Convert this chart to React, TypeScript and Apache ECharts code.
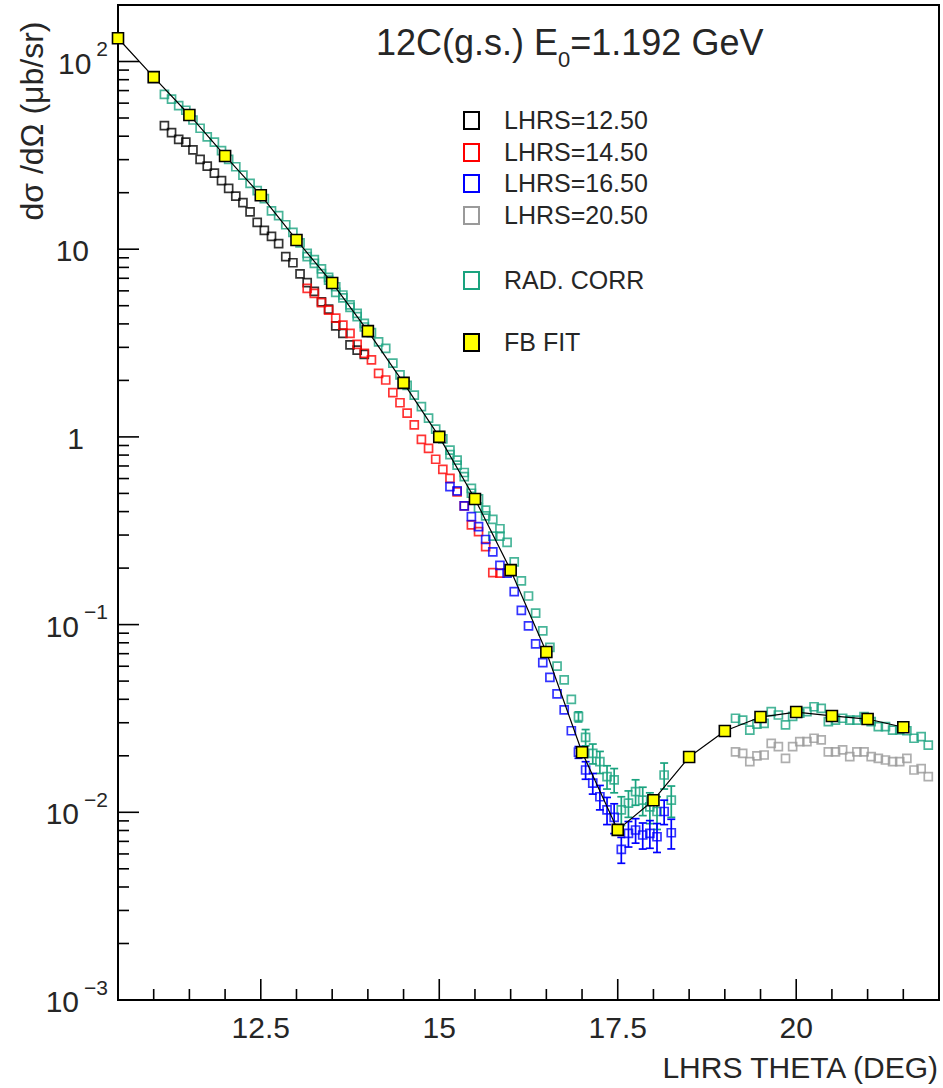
import React, { useEffect, useRef } from "react";
import * as echarts from "echarts";

const FONT = "'Liberation Sans', Arial, Helvetica, sans-serif";
const INK = "#262626";

const X_MIN = 10.5;
const X_MAX = 22;
const Y_MIN = 0.001;
const Y_MAX = 200;

const xTickLabels = [12.5, 15, 17.5, 20];
const xMinorTicks = [11, 11.5, 12, 13, 13.5, 14, 14.5, 15.5, 16, 16.5, 17, 18, 18.5, 19, 19.5, 20.5, 21, 21.5];
const yDecades = [0.001, 0.01, 0.1, 1, 10, 100];
const yMinorMantissas = [2, 3, 4, 5, 6, 7, 8, 9];

// LHRS = 12.50 (black)
const lhrs1250 = [
  [11.15, 45.5], [11.25, 41.8], [11.35, 38.5], [11.45, 37.2], [11.55, 33.8], [11.65, 30.1],
  [11.75, 27.7], [11.85, 25.4], [11.95, 23.2], [12.05, 21.1], [12.15, 19.2], [12.25, 17.7],
  [12.35, 15.8], [12.45, 13.9], [12.55, 12.6], [12.65, 11.7], [12.75, 10.7], [12.85, 9.12],
  [12.95, 8.47], [13.05, 7.38], [13.15, 6.64], [13.25, 5.96], [13.35, 5.25], [13.45, 4.79],
  [13.55, 3.9], [13.65, 3.56], [13.75, 3.09], [13.85, 2.9], [13.95, 2.75],
];

// LHRS = 14.50 (red)
const lhrs1450 = [
  [13.15, 6.19], [13.25, 5.82], [13.35, 5.19], [13.45, 4.74], [13.55, 4.29], [13.65, 3.94],
  [13.75, 3.56], [13.85, 3.11], [13.95, 2.79], [14.05, 2.57], [14.15, 2.18], [14.25, 2.01],
  [14.35, 1.72], [14.45, 1.52], [14.55, 1.34], [14.65, 1.16], [14.75, 0.97], [14.85, 0.869],
  [14.95, 0.76], [15.05, 0.671], [15.15, 0.601], [15.25, 0.51], [15.35, 0.429], [15.45, 0.34],
  [15.55, 0.313], [15.65, 0.26], [15.75, 0.189], [15.85, 0.188],
];

// LHRS = 16.50 (blue): [theta, value, error]
const lhrs1650 = [
  [15.15, 0.543, 0], [15.25, 0.516, 0], [15.35, 0.429, 0], [15.45, 0.376, 0], [15.55, 0.333, 0],
  [15.65, 0.284, 0], [15.75, 0.244, 0], [15.85, 0.207, 0], [15.95, 0.188, 0], [16.05, 0.15, 0],
  [16.15, 0.119, 0], [16.25, 0.0984, 0], [16.35, 0.0789, 0], [16.45, 0.0627, 0], [16.55, 0.0524, 0],
  [16.65, 0.0427, 0], [16.75, 0.0351, 0], [16.85, 0.0272, 0], [16.95, 0.0209, 0.0015],
  [17.05, 0.0168, 0.0018], [17.15, 0.0143, 0.0018], [17.25, 0.0121, 0.0018], [17.35, 0.0103, 0.0017],
  [17.45, 0.0094, 0.0017], [17.55, 0.00635, 0.001], [17.65, 0.00773, 0.0012], [17.75, 0.00805, 0.0012],
  [17.85, 0.00757, 0.0012], [17.95, 0.00773, 0.0013], [18.05, 0.00741, 0.0013], [18.15, 0.0101, 0.0015],
  [18.25, 0.00778, 0.0014],
];

// LHRS = 20.50 (grey)
const lhrs2050 = [
  [19.15, 0.021], [19.25, 0.0206], [19.35, 0.0186], [19.45, 0.02], [19.55, 0.0202], [19.65, 0.0233],
  [19.75, 0.0224], [19.85, 0.0194], [19.95, 0.0224], [20.05, 0.0238], [20.15, 0.0238], [20.25, 0.0248],
  [20.35, 0.0243], [20.45, 0.021], [20.55, 0.021], [20.65, 0.0215], [20.75, 0.0198], [20.85, 0.021],
  [20.95, 0.021], [21.05, 0.0198], [21.15, 0.0194], [21.25, 0.019], [21.35, 0.0186], [21.45, 0.0186],
  [21.55, 0.0194], [21.65, 0.0168], [21.75, 0.0171], [21.85, 0.0155],
];

// RAD. CORR (green): [theta, value, error]
const radCorr = [
  [11.15, 66.8, 0], [11.25, 63.1, 0], [11.35, 58.2, 0], [11.45, 55.0, 0], [11.55, 48.8, 0],
  [11.65, 44.1, 0], [11.75, 39.7, 0], [11.85, 37.2, 0], [11.95, 33.5, 0], [12.05, 30.1, 0],
  [12.15, 27.5, 0], [12.25, 24.8, 0], [12.35, 22.4, 0], [12.45, 20.5, 0], [12.55, 18.6, 0],
  [12.65, 16.0, 0], [12.75, 15.1, 0], [12.85, 13.5, 0], [12.95, 12.3, 0], [13.05, 10.8, 0],
  [13.15, 9.51, 0], [13.15, 9.12, 0], [13.25, 8.41, 0], [13.25, 8.81, 0], [13.35, 7.85, 0],
  [13.35, 7.41, 0], [13.45, 7.08, 0], [13.45, 6.84, 0], [13.55, 6.31, 0], [13.55, 5.89, 0],
  [13.65, 5.7, 0], [13.65, 5.5, 0], [13.75, 5.05, 0], [13.75, 4.9, 0], [13.85, 4.55, 0],
  [13.85, 4.37, 0], [13.95, 4.03, 0], [13.95, 3.85, 0], [14.05, 3.59, 0], [14.15, 3.21, 0],
  [14.25, 2.96, 0], [14.35, 2.47, 0], [14.45, 2.14, 0], [14.55, 1.88, 0], [14.65, 1.67, 0],
  [14.75, 1.45, 0], [14.85, 1.26, 0], [14.95, 1.1, 0], [15.05, 0.977, 0], [15.15, 0.851, 0],
  [15.15, 0.804, 0], [15.25, 0.753, 0], [15.25, 0.708, 0], [15.35, 0.614, 0], [15.35, 0.646, 0],
  [15.45, 0.532, 0], [15.45, 0.501, 0], [15.55, 0.417, 0], [15.55, 0.468, 0], [15.65, 0.407, 0],
  [15.65, 0.38, 0], [15.75, 0.364, 0], [15.75, 0.296, 0], [15.85, 0.296, 0], [15.85, 0.324, 0],
  [15.95, 0.274, 0], [16.05, 0.216, 0], [16.15, 0.171, 0], [16.25, 0.142, 0], [16.35, 0.115, 0],
  [16.45, 0.0927, 0], [16.55, 0.0757, 0], [16.65, 0.0601, 0], [16.75, 0.0507, 0], [16.85, 0.04, 0],
  [16.95, 0.0323, 0.002], [17.05, 0.0251, 0.0025], [17.15, 0.0206, 0.0025], [17.25, 0.0186, 0.0025],
  [17.35, 0.0155, 0.0022], [17.45, 0.0149, 0.0022], [17.55, 0.0103, 0.0018], [17.65, 0.0112, 0.0018],
  [17.75, 0.0129, 0.002], [17.85, 0.0116, 0.002], [17.95, 0.0107, 0.002], [18.05, 0.0101, 0.002],
  [18.15, 0.0158, 0.0025], [18.25, 0.0116, 0.0022],
  [19.15, 0.0317, 0], [19.25, 0.031, 0], [19.35, 0.0274, 0], [19.45, 0.0295, 0], [19.55, 0.0298, 0],
  [19.65, 0.0344, 0], [19.75, 0.033, 0], [19.85, 0.0292, 0], [19.95, 0.0324, 0], [20.05, 0.0337, 0],
  [20.15, 0.0344, 0], [20.25, 0.0365, 0], [20.35, 0.0358, 0], [20.45, 0.0304, 0], [20.55, 0.031, 0],
  [20.65, 0.0317, 0], [20.75, 0.031, 0], [20.85, 0.031, 0], [20.95, 0.0323, 0], [21.05, 0.0304, 0],
  [21.15, 0.0286, 0], [21.25, 0.0286, 0], [21.35, 0.0274, 0], [21.45, 0.0275, 0], [21.55, 0.0272, 0],
  [21.65, 0.0248, 0], [21.75, 0.0253, 0], [21.85, 0.0228, 0],
];

// FB FIT (yellow squares joined by a line)
const fbFit = [
  [10.5, 133], [11.0, 82.6], [11.5, 51.9], [12.0, 31.4], [12.5, 19.4], [13.0, 11.2], [13.5, 6.61],
  [14.0, 3.66], [14.5, 1.94], [15.0, 1.0], [15.5, 0.467], [16.0, 0.195], [16.5, 0.0714],
  [17.0, 0.0209], [17.5, 0.00806], [18.0, 0.0116], [18.5, 0.0197], [19.0, 0.0271], [19.5, 0.0322],
  [20.0, 0.0342], [20.5, 0.0326], [21.0, 0.0314], [21.5, 0.0284],
];

const COLORS = {
  black: "#000000",
  red: "#ff0000",
  blue: "#0000ff",
  grey: "#9a9a9a",
  green: "#1aa37f",
};

const legendRows = [
  { label: "LHRS=12.50", color: COLORS.black, fill: "none", y: 120 },
  { label: "LHRS=14.50", color: COLORS.red, fill: "none", y: 152 },
  { label: "LHRS=16.50", color: COLORS.blue, fill: "none", y: 183 },
  { label: "LHRS=20.50", color: COLORS.grey, fill: "none", y: 215 },
  { label: "RAD. CORR", color: COLORS.green, fill: "none", y: 280 },
  { label: "FB FIT", color: "#000000", fill: "#ffff00", y: 342 },
];

function hollowScatter(name: string, data: number[][], color: string, z: number) {
  return {
    name,
    type: "scatter",
    data: data.map((d) => [d[0], d[1]]),
    symbol: "rect",
    symbolSize: 8,
    itemStyle: { color: "rgba(0,0,0,0)", borderColor: color, borderWidth: 1.7 },
    emphasis: { disabled: true },
    silent: true,
    z,
  };
}

function errorBars(data: number[][], color: string, z: number) {
  return {
    type: "custom",
    silent: true,
    z,
    data: data.filter((d) => d[2] > 0).map((d) => [d[0], d[1] - d[2], d[1] + d[2]]),
    encode: { x: 0, y: [1, 2] },
    renderItem: (_p: any, api: any) => {
      const x = api.value(0);
      const lo = api.coord([x, api.value(1)]);
      const hi = api.coord([x, api.value(2)]);
      const w = 4;
      const style = { stroke: color, lineWidth: 1.7 };
      return {
        type: "group",
        children: [
          { type: "line", shape: { x1: lo[0], y1: lo[1], x2: hi[0], y2: hi[1] }, style },
          { type: "line", shape: { x1: lo[0] - w, y1: lo[1], x2: lo[0] + w, y2: lo[1] }, style },
          { type: "line", shape: { x1: hi[0] - w, y1: hi[1], x2: hi[0] + w, y2: hi[1] }, style },
        ],
      };
    },
  };
}

function tickSeries(values: number[], axis: "x" | "y", len: number) {
  return {
    type: "custom",
    silent: true,
    z: 20,
    data: values.map((v) => (axis === "x" ? [v, Y_MIN] : [X_MIN, v])),
    renderItem: (_p: any, api: any) => {
      const p = api.coord([api.value(0), api.value(1)]);
      const shape =
        axis === "x"
          ? { x1: p[0], y1: p[1], x2: p[0], y2: p[1] - len }
          : { x1: p[0], y1: p[1], x2: p[0] + len, y2: p[1] };
      return { type: "line", shape, style: { stroke: "#000", lineWidth: 1.6 } };
    },
  };
}

const yMinorTicks: number[] = [];
yDecades.slice(0, 5).forEach((d) => yMinorMantissas.forEach((m) => yMinorTicks.push(m * d)));

function yLabel(v: number) {
  const lg = Math.log10(v);
  const k = Math.round(lg);
  if (Math.abs(lg - k) > 1e-6) return "";
  if (k === 0) return "{b|1}{p1| }";
  if (k === 1) return "{b|10}{p2| }";
  return `{b|10}{e|${k < 0 ? "\u2212" + -k : k}}`;
}

function buildOption() {
  const graphic: any[] = [
    {
      type: "text",
      x: 376,
      y: 47,
      style: {
        text: "{a|12C(g.s.) E}{s|0}{a|=1.192 GeV}",
        rich: {
          a: { fontSize: 36, fontFamily: FONT, fill: INK, padding: [0, 0, 10, 0], verticalAlign: "bottom" },
          s: { fontSize: 22, fontFamily: FONT, fill: INK, verticalAlign: "bottom" },
        },
        verticalAlign: "middle",
        textVerticalAlign: "middle",
      },
    },
    {
      type: "text",
      x: 32,
      y: 121,
      rotation: Math.PI / 2,
      style: {
        text: "d\u03c3 /d\u03a9 (\u03bcb/sr)",
        font: `32px ${FONT}`,
        fill: INK,
        align: "center",
        textAlign: "center",
        verticalAlign: "middle",
        textVerticalAlign: "middle",
      },
    },
    {
      type: "text",
      x: 938,
      y: 1067,
      style: {
        text: "LHRS THETA (DEG)",
        font: `30px ${FONT}`,
        fill: INK,
        align: "right",
        textAlign: "right",
        verticalAlign: "middle",
        textVerticalAlign: "middle",
      },
    },
  ];
  legendRows.forEach((r) => {
    graphic.push({
      type: "rect",
      shape: { x: 464, y: r.y - 8, width: 15, height: 17 },
      style: { fill: r.fill, stroke: r.color, lineWidth: 2 },
    });
    graphic.push({
      type: "text",
      x: 504,
      y: r.y,
      style: {
        text: r.label,
        font: `25px ${FONT}`,
        fill: INK,
        verticalAlign: "middle",
        textVerticalAlign: "middle",
      },
    });
  });

  return {
    animation: false,
    backgroundColor: "#ffffff",
    grid: {
      left: 118,
      right: 4,
      top: 5,
      bottom: 88,
      show: true,
      borderColor: "#000",
      borderWidth: 2,
      backgroundColor: "rgba(0,0,0,0)",
    },
    xAxis: {
      type: "value",
      min: X_MIN,
      max: X_MAX,
      axisLine: { show: true, lineStyle: { color: "#000", width: 2 } },
      axisTick: { show: false },
      splitLine: { show: false },
      axisLabel: {
        customValues: xTickLabels,
        formatter: (v: number) => String(v),
        fontSize: 30,
        fontFamily: FONT,
        color: INK,
        margin: 12,
      },
    },
    yAxis: {
      type: "log",
      logBase: 10,
      min: Y_MIN,
      max: Y_MAX,
      axisLine: { show: true, lineStyle: { color: "#000", width: 2 } },
      axisTick: { show: false },
      minorTick: { show: false },
      splitLine: { show: false },
      axisLabel: {
        formatter: yLabel,
        margin: 10,
        rich: {
          b: { fontSize: 30, fontFamily: FONT, color: INK, padding: [0, 0, 7, 0], verticalAlign: "bottom" },
          e: { fontSize: 21, fontFamily: FONT, color: INK, padding: [0, 0, 26, 5], verticalAlign: "bottom" },
          p1: { width: 24, fontSize: 21, padding: [0, 0, 26, 0], verticalAlign: "bottom" },
          p2: { width: 19, fontSize: 21, padding: [0, 0, 26, 0], verticalAlign: "bottom" },
        },
      },
    },
    graphic,
    series: [
      tickSeries(xTickLabels, "x", 21),
      tickSeries(xMinorTicks, "x", 11),
      tickSeries(yDecades, "y", 21),
      tickSeries(yMinorTicks, "y", 11),
      errorBars(radCorr, COLORS.green, 2),
      hollowScatter("RAD. CORR", radCorr, COLORS.green, 2),
      hollowScatter("LHRS=12.50", lhrs1250, COLORS.black, 3),
      hollowScatter("LHRS=14.50", lhrs1450, COLORS.red, 3),
      errorBars(lhrs1650, COLORS.blue, 4),
      hollowScatter("LHRS=16.50", lhrs1650, COLORS.blue, 4),
      hollowScatter("LHRS=20.50", lhrs2050, COLORS.grey, 4),
      {
        name: "FB FIT",
        type: "line",
        data: fbFit,
        symbol: "rect",
        symbolSize: 11,
        showAllSymbol: true,
        itemStyle: { color: "#ffff00", borderColor: "#000", borderWidth: 1.6 },
        lineStyle: { color: "#000", width: 1.2 },
        emphasis: { disabled: true },
        silent: true,
        z: 6,
      },
    ],
  };
}

export default function App() {
  const ref = useRef<HTMLDivElement>(null);
  useEffect(() => {
    if (!ref.current) return;
    const chart = echarts.init(ref.current, null, { renderer: "svg" });
    chart.setOption(buildOption() as any);
    return () => chart.dispose();
  }, []);
  return (
    <div
      ref={ref}
      style={{ position: "fixed", left: 0, top: 0, width: 943, height: 1088, background: "#fff" }}
    />
  );
}
